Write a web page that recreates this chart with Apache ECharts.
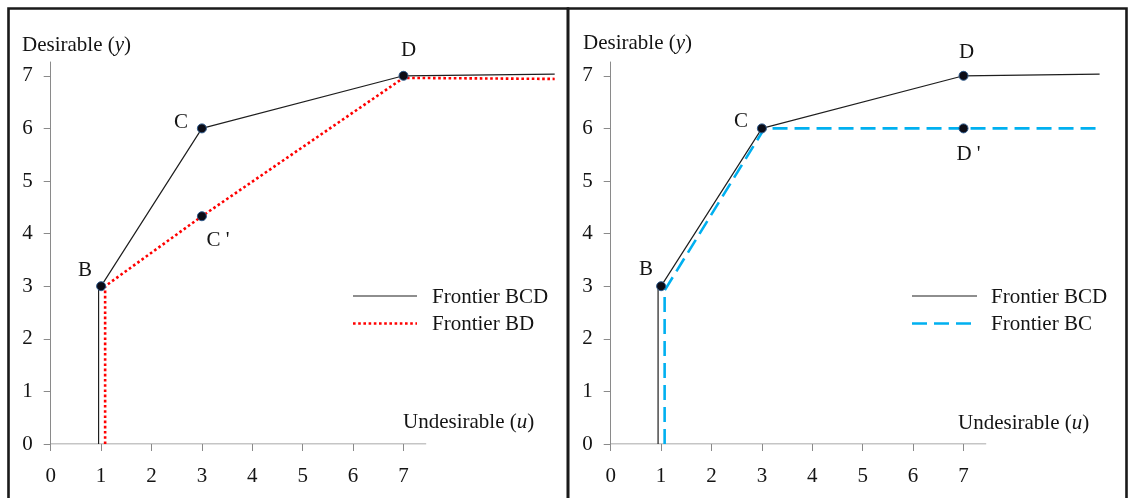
<!DOCTYPE html>
<html>
<head>
<meta charset="utf-8">
<script src="https://cdn.jsdelivr.net/npm/echarts@6/dist/echarts.min.js"></script>
<style>
html,body{margin:0;padding:0;background:#fff;}
#chart{width:1131px;height:498px;}
</style>
</head>
<body>
<div id="chart"></div>
<script>
// ---- data ----
const xTickValues = [0, 1, 2, 3, 4, 5, 6, 7];
const yTickValues = [0, 1, 2, 3, 4, 5, 6, 7];
const xAxisLineEnd = 7.45;

// left panel
const leftBCD = [[0.95, 0], [0.95, 3], [1, 3], [3, 6], [7, 7], [7, 7.03], [10, 7.03]];
const leftBD = [[1.08, 0], [1.08, 3], [3, 4.33], [7, 6.96], [10, 6.94]];
const leftPointNames = ['B', 'C', 'D', "C '"];
const leftPointX = [1, 3, 7, 3];
const leftPointY = [3, 6, 7, 4.33];

// right panel
const rightBCD = [[0.94, 0], [0.94, 3], [1, 3], [3, 6], [7, 7], [7, 7.03], [9.7, 7.03]];
const rightBC = [[1.07, 0], [1.07, 2.92], [3.05, 6], [9.7, 6]];
const rightPointNames = ['B', 'C', 'D', "D '"];
const rightPointX = [1, 3, 7, 7];
const rightPointY = [3, 6, 7, 6];

const legendLeft = ['Frontier BCD', 'Frontier BD'];
const legendRight = ['Frontier BCD', 'Frontier BC'];
const yName = 'Desirable';
const yVar = 'y';
const xName = 'Undesirable';
const xVar = 'u';

// ---- styles ----
const FONT = '"Liberation Serif", "Times New Roman", serif';
const FS = 21;
const TXT = '#141414';
const AXC = '#8a8a8a';
const labelOffsets = {
  left: [[-16, -16], [-21, -6], [5, -25], [16, 24]],
  right: [[-15, -17], [-21, -7], [3, -23], [5, 26]]
};

function pointData(names, xs, ys, offs) {
  return names.map((n, i) => ({
    value: [xs[i], ys[i]],
    name: n,
    label: { offset: offs[i] }
  }));
}

function xAxisCfg(gi, max) {
  return {
    type: 'value', gridIndex: gi, min: 0, max: max,
    axisLine: { show: false },
    splitLine: { show: false },
    axisTick: { show: true, length: 7, customValues: xTickValues, lineStyle: { color: AXC } },
    axisLabel: { customValues: xTickValues, margin: 22, color: TXT, fontFamily: FONT, fontSize: FS }
  };
}
function yAxisCfg(gi) {
  return {
    type: 'value', gridIndex: gi, min: 0, max: 7.262,
    axisLine: { show: true, lineStyle: { color: AXC, width: 1 } },
    splitLine: { show: false },
    axisTick: { show: true, length: 7, customValues: yTickValues, lineStyle: { color: AXC } },
    axisLabel: { customValues: yTickValues, margin: 18, color: TXT, fontFamily: FONT, fontSize: FS }
  };
}

const blackLine = { color: '#1e1e1e', width: 1.2, type: 'solid' };
const redLine = { color: '#ff0000', width: 2.6, type: [2.6, 2.6], cap: 'butt' };
const blueLine = { color: '#00b0f0', width: 2.6, type: [15, 7], cap: 'butt' };

function lineSeries(gi, data, style, z) {
  return {
    type: 'line', xAxisIndex: gi, yAxisIndex: gi, data: data,
    showSymbol: false, symbol: 'none', lineStyle: style, silent: true, animation: false, z: z
  };
}
function pointSeries(gi, data) {
  return {
    type: 'scatter', xAxisIndex: gi, yAxisIndex: gi, data: data,
    symbolSize: 9, z: 10, animation: false, silent: true,
    itemStyle: { color: '#0c0c16', borderColor: '#2f5a8c', borderWidth: 1, opacity: 1 },
    label: {
      show: true, position: ['50%', '50%'], formatter: '{b}',
      color: TXT, fontFamily: FONT, fontSize: FS, align: 'center', verticalAlign: 'middle',
      opacity: 1, textBorderWidth: 0
    }
  };
}

function richName(x, y, main, v) {
  return {
    type: 'text', x: x, y: y, silent: true,
    style: {
      text: '{a|' + main + ' (}{i|' + v + '}{a|)}',
      verticalAlign: 'middle',
      rich: {
        a: { fontFamily: FONT, fontSize: FS, fill: TXT },
        i: { fontFamily: FONT, fontSize: FS, fontStyle: 'italic', fill: TXT }
      }
    }
  };
}
function legendItems(x0, x1, tx, y0, y1, names, style2) {
  const g = [];
  g.push({ type: 'line', silent: true, shape: { x1: x0, y1: y0, x2: x1, y2: y0 }, style: { stroke: '#1e1e1e', lineWidth: 1.2 } });
  g.push({ type: 'line', silent: true, shape: { x1: x0, y1: y1, x2: x1, y2: y1 },
    style: { stroke: style2.color, lineWidth: style2.width, lineDash: style2.type, lineCap: 'butt' } });
  g.push({ type: 'text', x: tx, y: y0 + 1, silent: true, style: { text: names[0], font: FS + 'px ' + FONT, fill: TXT, verticalAlign: 'middle' } });
  g.push({ type: 'text', x: tx, y: y1 + 1, silent: true, style: { text: names[1], font: FS + 'px ' + FONT, fill: TXT, verticalAlign: 'middle' } });
  return g;
}

const chart = echarts.init(document.getElementById('chart'), null, { renderer: 'canvas' });
const option = {
  backgroundColor: '#ffffff',
  animation: false,
  grid: [
    { left: 50.7, top: 62, width: 504, height: 382 },
    { left: 610.7, top: 62, width: 488.9, height: 382 }
  ],
  xAxis: [xAxisCfg(0, 10), xAxisCfg(1, 9.7)],
  yAxis: [yAxisCfg(0), yAxisCfg(1)],
  series: [
    lineSeries(0, [[0, 0], [xAxisLineEnd, 0]], { color: AXC, width: 1 }, 1),
    lineSeries(0, leftBCD, blackLine, 3),
    lineSeries(0, leftBD, redLine, 4),
    pointSeries(0, pointData(leftPointNames, leftPointX, leftPointY, labelOffsets.left)),
    lineSeries(1, [[0, 0], [xAxisLineEnd, 0]], { color: AXC, width: 1 }, 1),
    lineSeries(1, rightBCD, blackLine, 3),
    lineSeries(1, rightBC, blueLine, 4),
    pointSeries(1, pointData(rightPointNames, rightPointX, rightPointY, labelOffsets.right))
  ],
  graphic: [
    { type: 'rect', silent: true, shape: { x: 8.5, y: 8.5, width: 559.5, height: 500 }, style: { fill: 'none', stroke: '#1a1a1a', lineWidth: 2.6 } },
    { type: 'rect', silent: true, shape: { x: 568, y: 8.5, width: 558.5, height: 500 }, style: { fill: 'none', stroke: '#1a1a1a', lineWidth: 2.6 } },
    richName(22, 45, yName, yVar),
    richName(583, 43, yName, yVar),
    richName(403, 422, xName, xVar),
    richName(958, 423, xName, xVar)
  ].concat(
    legendItems(353, 417, 432, 296, 323.5, legendLeft, redLine),
    legendItems(912, 977, 991, 296, 323.5, legendRight, blueLine)
  )
};
chart.setOption(option);
</script>
</body>
</html>
